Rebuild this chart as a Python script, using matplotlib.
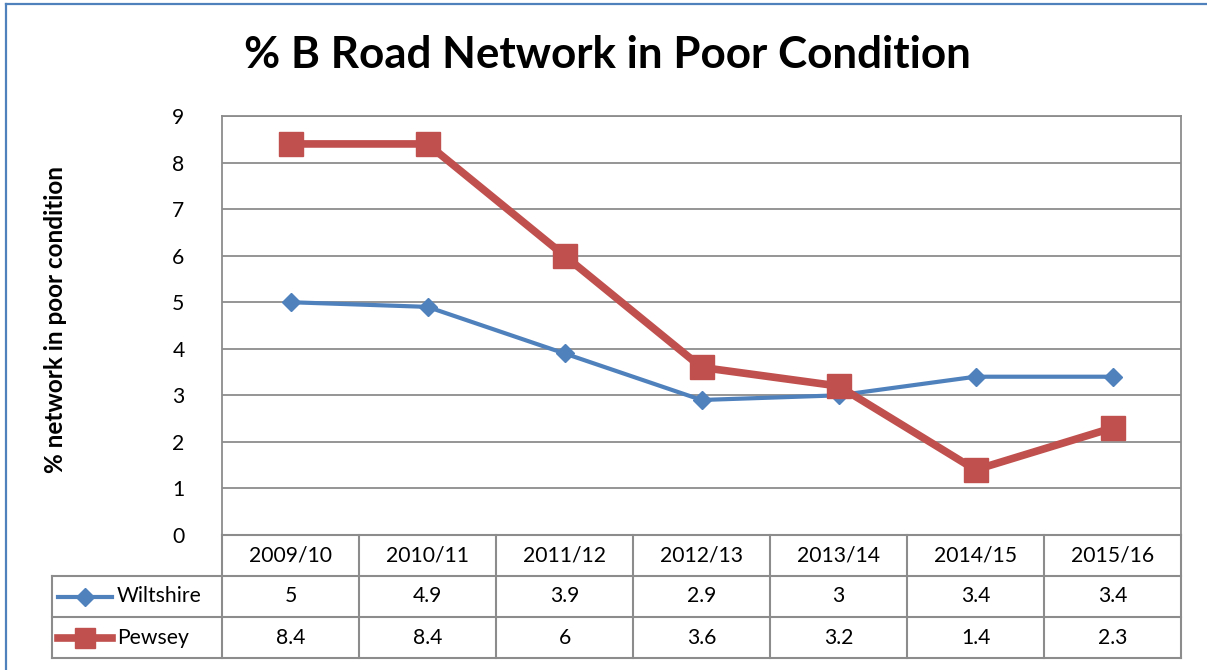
import matplotlib.pyplot as plt
from matplotlib.lines import Line2D

plt.rcParams['font.family'] = ['Lato', 'DejaVu Sans']

years = ["2009/10", "2010/11", "2011/12", "2012/13", "2013/14", "2014/15", "2015/16"]
wiltshire = [5, 4.9, 3.9, 2.9, 3, 3.4, 3.4]
pewsey = [8.4, 8.4, 6, 3.6, 3.2, 1.4, 2.3]
series_names = ["Wiltshire", "Pewsey"]

W, H = 1207, 670
fig = plt.figure(figsize=(W / 100, H / 100), dpi=100)


def px_rect(x0, y0, x1, y1):
    # pixel box (top-left origin) -> figure fraction rect
    return [x0 / W, 1 - y1 / H, (x1 - x0) / W, (y1 - y0) / H]


blue = "#4F81BD"
red = "#C0504D"
grid = "#8C8C8C"
fs = 15.2

# outer chart border (blue, left and top only visible)
fig.add_artist(Line2D([6 / W, 6 / W], [0, 1 - 4 / H], color=blue, lw=1.6))
fig.add_artist(Line2D([6 / W, 1], [1 - 4 / H, 1 - 4 / H], color=blue, lw=1.6))

ax = fig.add_axes(px_rect(222, 116, 1181, 535))
x = list(range(len(years)))
ax.plot(x, wiltshire, color=blue, lw=3, marker="D", ms=9, label=series_names[0], zorder=3)
ax.plot(x, pewsey, color=red, lw=5.5, marker="s", ms=17, label=series_names[1], zorder=4)
ax.set_xlim(-0.5, len(years) - 0.5)
ax.set_ylim(0, 9)
ax.set_yticks(range(0, 10))
ax.set_xticks([])
ax.yaxis.grid(True, color=grid, lw=1.3)
ax.set_axisbelow(True)
for s in ax.spines.values():
    s.set_color(grid)
    s.set_linewidth(1.3)
ax.tick_params(axis="y", length=0, pad=27, labelsize=fs)
ax.set_ylabel("% network in poor condition", fontsize=17.5, fontweight="bold")
ax.yaxis.set_label_coords(-0.162, 0.515)

fig.text(607 / W, 1 - 55 / H, "% B Road Network in Poor Condition",
         ha="center", va="center", fontsize=31.7, fontweight="bold")

# data table below the plot
col_w = (1181 - 222) / len(years)
left_extra = (222 - 52) / col_w
tax = fig.add_axes(px_rect(52, 535, 1181, 658))
tax.set_xlim(-0.5 - left_extra, len(years) - 0.5)
tax.set_ylim(3, 0)
tax.axis("off")
x0 = -0.5 - left_extra
kw = dict(color=grid, lw=1.5, clip_on=False)
# header row
tax.plot([-0.5, len(years) - 0.5], [0, 0], **kw)
for i in range(len(years) + 1):
    tax.plot([i - 0.5, i - 0.5], [0, 3], **kw)
tax.plot([x0, x0], [1, 3], **kw)
for r in (1, 2, 3):
    tax.plot([x0, len(years) - 0.5], [r, r], **kw)
for i, yr in enumerate(years):
    tax.text(i, 0.5, yr, ha="center", va="center", fontsize=fs)
for r, (vals, name) in enumerate(zip([wiltshire, pewsey], series_names), start=1):
    for i, v in enumerate(vals):
        tax.text(i, r + 0.5, f"{v:g}", ha="center", va="center", fontsize=fs)
    tax.text(x0 + 65 / col_w, r + 0.5, name, ha="left", va="center", fontsize=fs)

# legend keys in the table
ls = x0 + 6 / col_w
le = x0 + 60 / col_w
tax.plot([ls, le], [1.5, 1.5], color=blue, lw=3, clip_on=False)
tax.plot([(ls + le) / 2], [1.5], color=blue, marker="D", ms=9, clip_on=False)
tax.plot([ls, le], [2.5, 2.5], color=red, lw=5.5, clip_on=False)
tax.plot([(ls + le) / 2], [2.5], color=red, marker="s", ms=14, clip_on=False)

fig.savefig("out.png", dpi=100)
